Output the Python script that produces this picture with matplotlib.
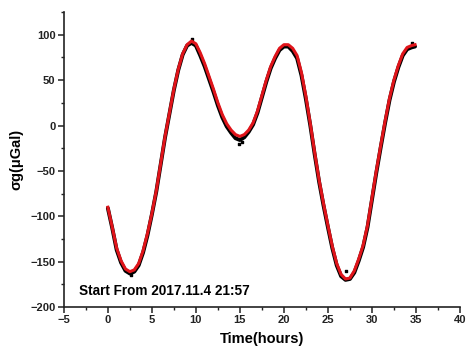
import numpy as np
import matplotlib.pyplot as plt
from matplotlib.ticker import MultipleLocator

# ---------------- data ----------------
hours = [0.0, 0.5, 1.0, 1.5, 2.0, 2.5, 3.0, 3.5, 4.0, 4.5,
         5.0, 5.5, 6.0, 6.5, 7.0, 7.5, 8.0, 8.5, 9.0, 9.5,
         10.0, 10.5, 11.0, 11.5, 12.0, 12.5, 13.0, 13.5, 14.0, 14.5,
         15.0, 15.5, 16.0, 16.5, 17.0, 17.5, 18.0, 18.5, 19.0, 19.5,
         20.0, 20.5, 21.0, 21.5, 22.0, 22.5, 23.0, 23.5, 24.0, 24.5,
         25.0, 25.5, 26.0, 26.5, 27.0, 27.5, 28.0, 28.5, 29.0, 29.5,
         30.0, 30.5, 31.0, 31.5, 32.0, 32.5, 33.0, 33.5, 34.0, 34.5, 34.9]

# fitted tide curve (red)
fit_ugal = [-90, -112, -135, -149, -158, -161, -159, -152, -138, -119,
            -97, -72, -42, -12, 14, 40, 62, 79, 89, 93,
            90, 80, 68, 54, 40, 25, 12, 2, -5, -10,
            -12, -10, -5, 3, 16, 33, 50, 65, 76, 85,
            89, 89, 85, 77, 58, 32, 2, -30, -60, -86,
            -110, -133, -152, -164, -169, -168, -160, -147, -132, -110,
            -80, -50, -22, 5, 30, 50, 66, 79, 86, 88, 89]

# measured gravity (black), slightly off the fit
meas_ugal = [-91, -113, -137, -151, -160, -163, -161, -154, -140, -121,
             -98, -73, -43, -13, 13, 39, 61, 78, 88, 91,
             88, 77, 65, 51, 37, 22, 9, -1, -8, -14,
             -16, -13, -7, 1, 14, 31, 48, 63, 74, 83,
             87, 87, 82, 74, 55, 29, 0, -32, -62, -88,
             -112, -135, -154, -166, -170, -169, -162, -149, -134, -112,
             -82, -52, -24, 3, 28, 48, 64, 77, 84, 86, 87]

# a few stray samples
stray_h = [2.6, 14.9, 15.2, 27.0, 9.6, 34.6]
stray_ugal = [-165, -20, -18, -160, 95, 91]

# ---------------- plot ----------------
fig = plt.figure(figsize=(4.66, 3.53), dpi=100)
ax = fig.add_axes([0.137, 0.130, 0.850, 0.836])

ax.plot(hours, meas_ugal, color='black', lw=2.8, solid_capstyle='round', zorder=2)
ax.scatter(stray_h, stray_ugal, s=2, color='black', marker='s', zorder=2)
ax.plot(hours, fit_ugal, color='#e0141a', lw=2.2, zorder=3)

ax.set_xlim(-5, 40)
ax.set_ylim(-200, 125)
ax.set_xticks(np.arange(-5, 41, 5))
ax.set_yticks(np.arange(-200, 101, 50))
ax.xaxis.set_minor_locator(MultipleLocator(2.5))
ax.yaxis.set_minor_locator(MultipleLocator(25))

for s in ['top', 'right']:
    ax.spines[s].set_visible(False)
for s in ['left', 'bottom']:
    ax.spines[s].set_linewidth(1.2)
    ax.spines[s].set_color('#222222')

ax.tick_params(which='major', direction='out', length=4, width=1.1,
               labelsize=8, pad=2, colors='#222222')
ax.tick_params(which='minor', direction='out', length=2.5, width=1.0, colors='#222222')
for lab in ax.get_xticklabels() + ax.get_yticklabels():
    lab.set_fontfamily('Liberation Sans')
    lab.set_fontweight('bold')

ax.set_xlabel('Time(hours)', fontsize=10.5, fontweight='bold',
              fontfamily='Liberation Sans', labelpad=5)
ax.set_ylabel('σg(μGal)', fontsize=10.5, fontweight='bold',
              fontfamily='Liberation Sans', labelpad=5)

ax.text(0.038, 0.03, 'Start From 2017.11.4 21:57', transform=ax.transAxes,
        fontsize=9.8, fontweight='bold', fontfamily='Liberation Sans',
        ha='left', va='bottom')

fig.savefig('out.png', dpi=100)
